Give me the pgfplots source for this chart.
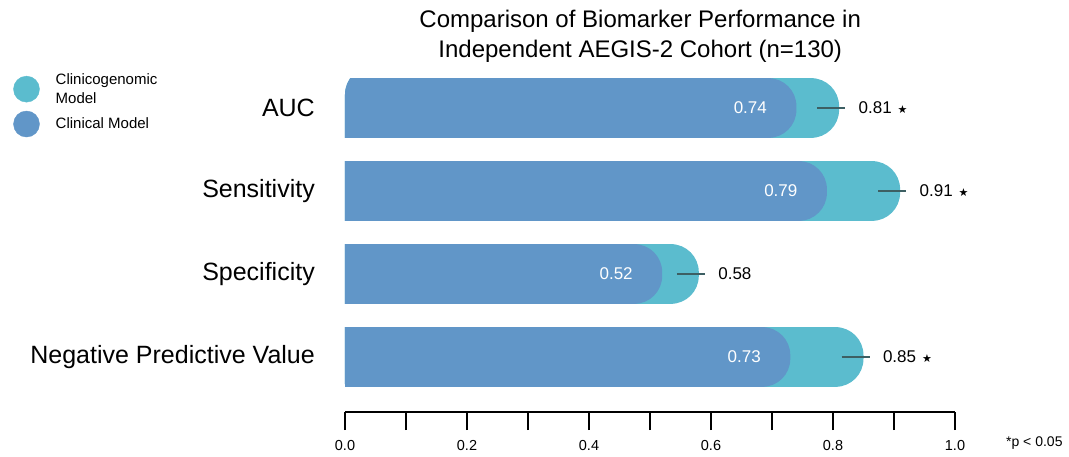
\documentclass[border=0pt]{standalone}
\usepackage{fontspec}
\setmainfont{Liberation Sans}
\newfontfamily\djv{DejaVu Sans}
\usepackage{pgfplots}
\pgfplotsset{compat=1.18}
\definecolor{gen}{HTML}{5BBCCE}
\definecolor{cli}{HTML}{6196C8}
\definecolor{errc}{HTML}{3D5F63}
\begin{document}
\begin{tikzpicture}
\useasboundingbox (-345pt,-44pt) rectangle (724pt,412pt);
\begin{axis}[
  at={(0,0)}, anchor=south west,
  scale only axis, width=610pt, height=345.5pt,
  xmin=0, xmax=1, ymin=-0.663, ymax=3.5,
  clip mode=individual,
  axis x line*=bottom, axis y line*=left,
  y axis line style={draw=none},
  x axis line style={line width=1.3pt, black},
  xtick={0,0.1,0.2,0.3,0.4,0.5,0.6,0.7,0.8,0.9,1},
  xticklabels={0.0,,0.2,,0.4,,0.6,,0.8,,1.0},
  tick align=outside, major tick length=18pt,
  xtick style={line width=1.1pt, black},
  ytick=\empty,
  xticklabel style={font=\fontsize{14.5}{16}\selectfont, yshift=-7pt},
  /pgf/number format/assume math mode=true,
  legend style={at={(axis description cs:-0.549,0.992)}, anchor=north west, draw=none, fill=none,
    font=\fontsize{15}{19}\selectfont, cells={anchor=west, align=left}, row sep=4pt},
  legend cell align=left,
]
\addlegendimage{legend image code/.code={\fill[gen] (0pt,0pt) circle (13pt); \path (27pt,0pt);}}
\addlegendentry{Clinicogenomic\\Model}
\addlegendimage{legend image code/.code={\fill[cli] (0pt,0pt) circle (13pt); \path (27pt,0pt);}}
\addlegendentry{Clinical Model}

% Clinicogenomic bars
\addplot[fill=gen, draw=none, rounded corners=28pt, forget plot] coordinates {(-0.2,2.64) (0.81,2.64) (0.81,3.36) (-0.2,3.36)} --cycle;
\addplot[fill=gen, draw=none, rounded corners=28pt, forget plot] coordinates {(-0.2,1.64) (0.91,1.64) (0.91,2.36) (-0.2,2.36)} --cycle;
\addplot[fill=gen, draw=none, rounded corners=28pt, forget plot] coordinates {(-0.2,0.64) (0.58,0.64) (0.58,1.36) (-0.2,1.36)} --cycle;
\addplot[fill=gen, draw=none, rounded corners=28pt, forget plot] coordinates {(-0.2,-0.36) (0.85,-0.36) (0.85,0.36) (-0.2,0.36)} --cycle;
% Clinical bars
\addplot[fill=cli, draw=none, rounded corners=28pt, forget plot] coordinates {(-0.2,2.64) (0.74,2.64) (0.74,3.36) (-0.2,3.36)} --cycle;
\addplot[fill=cli, draw=none, rounded corners=28pt, forget plot] coordinates {(-0.2,1.64) (0.79,1.64) (0.79,2.36) (-0.2,2.36)} --cycle;
\addplot[fill=cli, draw=none, rounded corners=28pt, forget plot] coordinates {(-0.2,0.64) (0.52,0.64) (0.52,1.36) (-0.2,1.36)} --cycle;
\addplot[fill=cli, draw=none, rounded corners=28pt, forget plot] coordinates {(-0.2,-0.36) (0.73,-0.36) (0.73,0.36) (-0.2,0.36)} --cycle;
% error lines
\addplot[draw=errc, line width=1.5pt, forget plot] coordinates {(0.774,3) (0.820,3)};
\addplot[draw=errc, line width=1.5pt, forget plot] coordinates {(0.874,2) (0.920,2)};
\addplot[draw=errc, line width=1.5pt, forget plot] coordinates {(0.544,1) (0.590,1)};
\addplot[draw=errc, line width=1.5pt, forget plot] coordinates {(0.814,0) (0.860,0)};

% inside labels
\begin{scope}[every node/.style={font=\fontsize{17}{19}\selectfont, text=white, anchor=east, xshift=-26pt}]
\node at (axis cs:0.74,3) {0.74};
\node at (axis cs:0.79,2) {0.79};
\node at (axis cs:0.52,1) {0.52};
\node at (axis cs:0.73,0) {0.73};
\end{scope}
% outside labels
\begin{scope}[every node/.style={font=\fontsize{17}{19}\selectfont, text=black, anchor=west, xshift=16pt}]
\node at (axis cs:0.81,3) {0.81\hspace{6pt}{\djv\fontsize{11}{11}\selectfont ★}};
\node at (axis cs:0.91,2) {0.91\hspace{6pt}{\djv\fontsize{11}{11}\selectfont ★}};
\node at (axis cs:0.58,1) {0.58};
\node at (axis cs:0.85,0) {0.85\hspace{6pt}{\djv\fontsize{11}{11}\selectfont ★}};
\end{scope}
% category labels
\begin{scope}[every node/.style={font=\fontsize{25}{28}\selectfont, anchor=east, inner sep=0pt, xshift=-30pt}]
\node at (axis cs:0,3) {AUC};
\node at (axis cs:0,2) {Sensitivity};
\node at (axis cs:0,1) {Specificity};
\node at (axis cs:0,0) {Negative Predictive Value};
\end{scope}
% title
\node[anchor=south, align=center, font=\fontsize{24}{30}\selectfont, yshift=0pt] at (axis description cs:0.484,1) {Comparison of Biomarker Performance in\\Independent AEGIS-2 Cohort (n=130)};
\node[anchor=west, font=\fontsize{14}{16}\selectfont] at (axis description cs:1.078,-0.09) {*p < 0.05};
\end{axis}
\end{tikzpicture}
\end{document}
